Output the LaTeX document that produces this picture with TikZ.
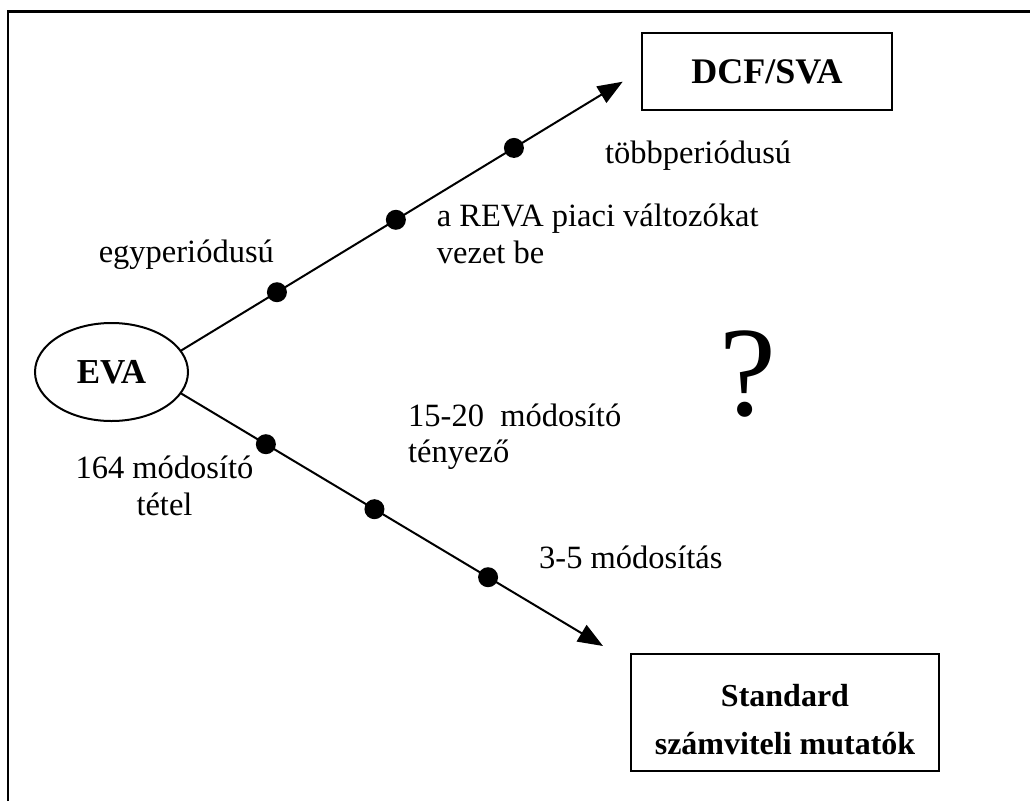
\documentclass[tikz,border=0pt]{standalone}
\usepackage{fontspec}
\setmainfont{Liberation Serif}
\usetikzlibrary{arrows.meta,shapes.geometric}
\begin{document}
\begin{tikzpicture}[x=1pt,y=-1pt,
  lbl/.style={anchor=base west, inner sep=0, font=\fontsize{32.5}{36.6}\selectfont, align=left},
  box/.style={draw, line width=2pt, inner sep=0, outer sep=0},
  conn/.style={line width=2pt, -{Triangle[length=25pt,width=19pt]}},
  dot/.style={circle, fill, inner sep=0, minimum size=20pt},
  frame/.style={line width=2.5pt}
]
\useasboundingbox (0,0) rectangle (1030,801);
\draw[frame] (8,801) -- (8,11.5) -- (1030,11.5);

\node[ellipse, draw, line width=2pt, minimum width=153pt, minimum height=98pt,
      inner sep=0, outer sep=0, font=\bfseries\fontsize{35}{40}\selectfont] (eva) at (111.5,372) {EVA};

\node[box, minimum width=250pt, minimum height=77pt,
      font=\bfseries\fontsize{36}{40}\selectfont] (dcf) at (767,71.5) {DCF/SVA};
\node[box, minimum width=308pt, minimum height=117pt, align=center,
      font=\bfseries\fontsize{32}{48}\selectfont] (std) at (785,712.5) {\rule{0pt}{37pt}Standard\\számviteli mutatók};

\coordinate (t1) at (622.7,81.7);
\coordinate (t2) at (603,646);

\draw[conn] (eva.17.6) -- (t1)
  node[dot,pos=0.218] (d1) {}
  node[dot,pos=0.487] (d2) {}
  node[dot,pos=0.754] (d3) {};
\draw[conn] (eva.-17.4) -- (t2)
  node[dot,pos=0.202] (d4) {}
  node[dot,pos=0.459] (d5) {}
  node[dot,pos=0.728] (d6) {};

\node[lbl] (egy) at (98.6,262) {egyperiódusú};
\node[lbl] (tobb) at (605,163) {többperiódusú};
\node[lbl] (reva) at (436.7,263.3) {a REVA piaci változókat\\vezet be};
\node[lbl] (m1520) at (408,462.6) {15-20~~módosító\\tényező};
\node[lbl, anchor=base, align=center] (m164) at (164.5,515.5) {164 módosító\\tétel};
\node[lbl] (m35) at (539,568.5) {3-5 módosítás};
\node[anchor=base west, inner sep=0, font=\fontsize{128}{130}\selectfont] (q) at (719,415) {?};
\end{tikzpicture}
\end{document}
